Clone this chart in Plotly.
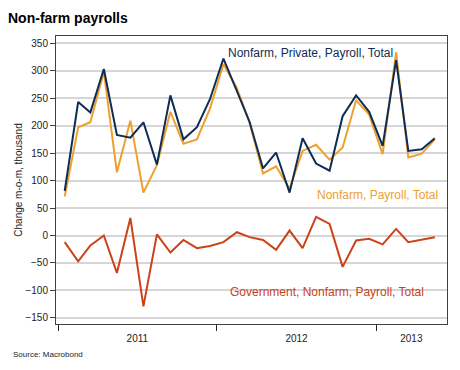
import plotly.graph_objects as go

months = ["2011-01", "2011-02", "2011-03", "2011-04", "2011-05", "2011-06", "2011-07",
          "2011-08", "2011-09", "2011-10", "2011-11", "2011-12", "2012-01", "2012-02",
          "2012-03", "2012-04", "2012-05", "2012-06", "2012-07", "2012-08", "2012-09",
          "2012-10", "2012-11", "2012-12", "2013-01", "2013-02", "2013-03", "2013-04",
          "2013-05"]
dates = [m + "-16" for m in months]

private = [81, 243, 224, 303, 183, 178, 206, 129, 255, 175, 197, 248, 322, 262,
           207, 122, 151, 78, 177, 131, 118, 217, 255, 225, 163, 319, 154, 157, 177]
total = [71, 197, 206, 298, 115, 209, 78, 128, 225, 167, 175, 231, 312, 268,
         205, 113, 126, 85, 154, 165, 138, 160, 246, 220, 148, 333, 142, 149, 175]
government = [-12, -47, -18, 0, -68, 32, -129, 2, -31, -8, -23, -19, -12, 6,
              -3, -8, -26, 9, -23, 34, 21, -57, -9, -6, -16, 12, -12, -8, -3]

year_label_pos = ["2011-07-02", "2012-07-02", "2013-03-23"]
year_labels = ["2011", "2012", "2013"]
y_ticks = [-150, -100, -50, 0, 50, 100, 150, 200, 250, 300, 350]

BLUE = "#0e2d55"
ORANGE = "#eea02e"
RED = "#cc4218"
FONT = "Liberation Sans, Arial, sans-serif"

# the page body adds an 8px offset, so the figure is 8px smaller and shifted
W, H = 452, 362
ML, MR, MT, MB = 48, 13, 28, 46
PW, PH = W - ML - MR, H - MT - MB

fig = go.Figure()
fig.add_trace(go.Scatter(x=dates, y=total, mode="lines",
                         line=dict(color=ORANGE, width=2), name="Nonfarm, Payroll, Total"))
fig.add_trace(go.Scatter(x=dates, y=private, mode="lines",
                         line=dict(color=BLUE, width=2), name="Nonfarm, Private, Payroll, Total"))
fig.add_trace(go.Scatter(x=dates, y=government, mode="lines",
                         line=dict(color=RED, width=2), name="Government, Nonfarm, Payroll, Total"))

fig.update_layout(
    width=W, height=H,
    margin=dict(l=ML, r=MR, t=MT, b=MB, autoexpand=False),
    paper_bgcolor="white", plot_bgcolor="white",
    showlegend=False,
    font=dict(family=FONT, size=10, color="#222222"),
    title=dict(text="<b>Non-farm payrolls</b>", xref="container", yref="container",
               x=0, xanchor="left", y=1-10/H, yanchor="middle",
               font=dict(family=FONT, size=14, color="#000000")),
    xaxis=dict(
        type="date",
        range=["2010-12-27", "2013-06-13"],
        tickmode="array", tickvals=year_label_pos, ticktext=year_labels,
        ticks="outside", ticklen=5, tickcolor="rgba(0,0,0,0)",
        showgrid=False, automargin=False,
        showline=True, linecolor="#404040", linewidth=1, mirror=True,
        tickfont=dict(size=10, color="#222222"),
        minor=dict(tickmode="linear", tick0="2011-01-01", dtick="M12",
                   ticks="outside", ticklen=6, tickcolor="#222222", tickwidth=1,
                   showgrid=False),
        zeroline=False,
    ),
    yaxis=dict(
        range=[-161, 363],
        tickmode="array", tickvals=y_ticks, automargin=False,
        ticks="outside", ticklen=5, tickcolor="#404040",
        showgrid=True, gridcolor="#d6d6d6", gridwidth=2,
        showline=True, linecolor="#404040", linewidth=1, mirror=True,
        zeroline=False,
        tickfont=dict(size=10, color="#222222"),
        title=dict(text="Change m-o-m, thousand", font=dict(size=10, color="#222222"),
                   standoff=0),
    ),
)

def px(x):
    return (x - 8 - ML) / PW

def py(y):
    return (MT + PH - (y - 8)) / PH

fig.add_annotation(text="Nonfarm, Private, Payroll, Total", xref="paper", yref="paper",
                   x=px(226), y=py(53), xanchor="left", yanchor="middle",
                   showarrow=False, font=dict(family=FONT, size=12, color=BLUE))
fig.add_annotation(text="Nonfarm, Payroll, Total", xref="paper", yref="paper",
                   x=px(315), y=py(195), xanchor="left", yanchor="middle",
                   showarrow=False, font=dict(family=FONT, size=12, color=ORANGE))
fig.add_annotation(text="Government, Nonfarm, Payroll, Total", xref="paper", yref="paper",
                   x=px(228), y=py(292), xanchor="left", yanchor="middle",
                   showarrow=False, font=dict(family=FONT, size=12, color=RED))
fig.add_annotation(text="Source: Macrobond", xref="paper", yref="paper",
                   x=px(11), y=py(354), xanchor="left", yanchor="middle",
                   showarrow=False, font=dict(family=FONT, size=8, color="#222222"))

fig.write_html("out.html")
